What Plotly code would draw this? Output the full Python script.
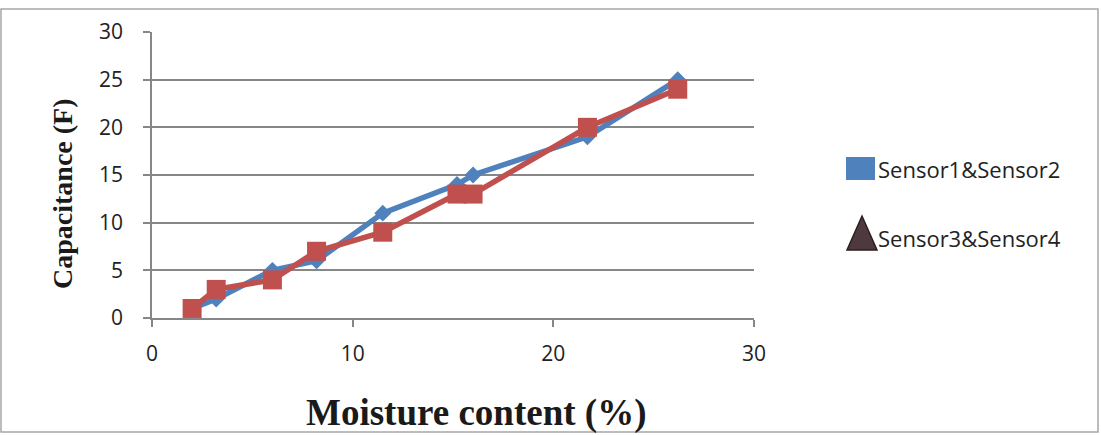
import plotly.graph_objects as go

# ---- data ----
moisture = [2, 3.2, 6, 8.2, 11.5, 15.2, 16, 21.7, 26.2]
sensor12 = [1, 2, 5, 6, 11, 14, 15, 19, 25]
sensor34 = [1, 3, 4, 7, 9, 13, 13, 20, 24]
x_ticks = [0, 10, 20, 30]
y_ticks = [0, 5, 10, 15, 20, 25, 30]
legend_names = ["Sensor1&Sensor2", "Sensor3&Sensor4"]
x_title = "Moisture content (%)"
y_title = "Capacitance (F)"

W, H = 1101, 435
L, R, T, B = 152, 754, 32, 318  # plot area in px
PW, PH = R - L, B - T


def px(xp):
    return (xp - L) / PW


def py(yp):
    return (B - yp) / PH


BLUE = "#4f81bd"
RED = "#c0504d"
GRID = "#878787"

fig = go.Figure()
fig.add_trace(go.Scatter(
    x=moisture, y=sensor12, mode="lines+markers", name=legend_names[0],
    line=dict(color=BLUE, width=5.5),
    marker=dict(symbol="diamond", size=13, color=BLUE),
    showlegend=False,
))
fig.add_trace(go.Scatter(
    x=moisture, y=sensor34, mode="lines+markers", name=legend_names[1],
    line=dict(color=RED, width=5.5),
    marker=dict(symbol="square", size=19, color=RED),
    showlegend=False,
))

tick_font = dict(family="Open Sans, sans-serif", size=21, color="#222222")

fig.update_xaxes(
    range=[0, 30], tickvals=x_ticks, ticks="outside", ticklen=7, tickwidth=1.5,
    tickcolor=GRID, showline=True, linecolor=GRID, linewidth=1.5,
    showgrid=False, zeroline=False, tickfont=tick_font, ticklabelstandoff=9,
)
fig.update_yaxes(
    range=[0, 30], tickvals=y_ticks, ticks="outside", ticklen=7, tickwidth=1.5,
    tickcolor=GRID, showline=True, linecolor=GRID, linewidth=1.5,
    showgrid=True, gridcolor=GRID, gridwidth=1.5, zeroline=False,
    tickfont=tick_font, ticklabelstandoff=16,
)

shapes = [
    # outer chart border
    dict(type="rect", xref="paper", yref="paper",
         x0=px(1), x1=px(1098), y0=py(432), y1=py(9),
         line=dict(color="#a6a6a6", width=1.5), fillcolor="rgba(0,0,0,0)", layer="below"),
    # legend symbol: blue square
    dict(type="rect", xref="paper", yref="paper",
         x0=px(846), x1=px(875), y0=py(180), y1=py(157),
         line=dict(color=BLUE, width=0), fillcolor=BLUE),
    # legend symbol: dark triangle
    dict(type="path", xref="paper", yref="paper",
         path=f"M {px(847)} {py(250)} L {px(877)} {py(250)} L {px(862)} {py(216)} Z",
         line=dict(color="#2a1e20", width=1.5), fillcolor="#4e3a3e"),
]

annotations = [
    dict(text=legend_names[0], xref="paper", yref="paper", x=px(876), y=py(169),
         xanchor="left", yanchor="middle", showarrow=False,
         font=dict(family="Open Sans, sans-serif", size=22, color="#222222")),
    dict(text=legend_names[1], xref="paper", yref="paper", x=px(876), y=py(238),
         xanchor="left", yanchor="middle", showarrow=False,
         font=dict(family="Open Sans, sans-serif", size=22, color="#222222")),
    dict(text=f"<b>{x_title}</b>", xref="paper", yref="paper", x=px(476), y=py(413),
         xanchor="center", yanchor="middle", showarrow=False,
         font=dict(family="Liberation Serif, Times New Roman, serif", size=37, color="#1a1a1a")),
    dict(text=f"<b>{y_title}</b>", xref="paper", yref="paper", x=px(62), y=py(194),
         xanchor="center", yanchor="middle", showarrow=False, textangle=-90,
         font=dict(family="Liberation Serif, Times New Roman, serif", size=28, color="#1a1a1a")),
]

fig.update_layout(
    width=W, height=H,
    margin=dict(l=L, r=W - R, t=T, b=H - B, pad=0),
    paper_bgcolor="white", plot_bgcolor="white",
    shapes=shapes, annotations=annotations, showlegend=False,
)

fig.write_html("out.html")
